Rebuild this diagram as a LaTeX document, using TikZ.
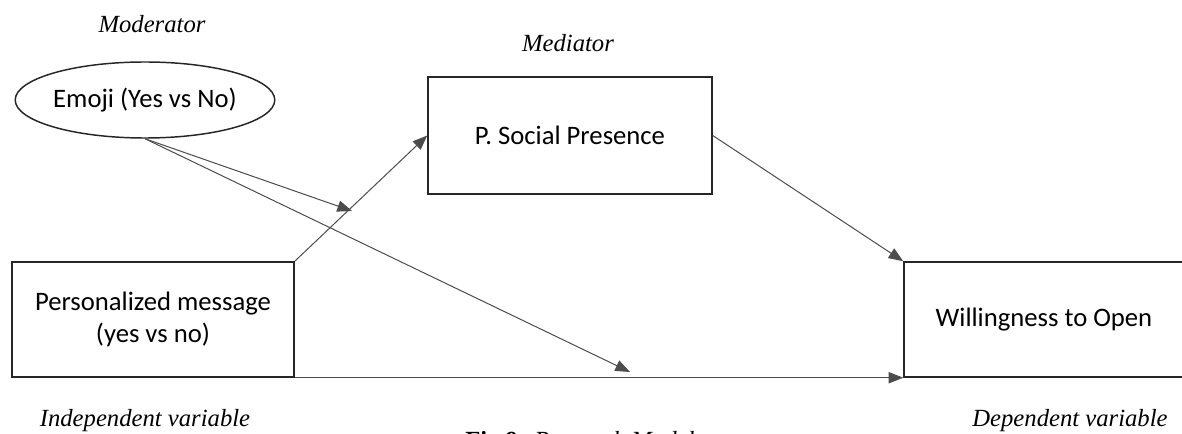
\documentclass[tikz,border=0pt]{standalone}
\usepackage{fontspec}
\setmainfont{Liberation Serif}
\newfontfamily\boxfont{Carlito}
\usetikzlibrary{arrows.meta,shapes.geometric}

\begin{document}
\begin{tikzpicture}[x=0.75pt,y=-0.75pt,
  box/.style={draw=black!85,line width=1.1pt,rectangle,inner sep=0pt,
    font=\boxfont\fontsize{20}{24}\selectfont,align=center},
  oval/.style={draw=black!85,line width=1.1pt,ellipse,inner sep=0pt,
    font=\boxfont\fontsize{20}{24}\selectfont},
  link/.style={draw=black!70,line width=0.75pt,-{Triangle[length=11pt,width=8.5pt]}},
  tag/.style={font=\fontsize{18.5}{22}\selectfont\itshape,anchor=base,inner sep=0pt}]

\useasboundingbox (0,0) rectangle (1182,434);

% variables
\node[oval,minimum width=183pt,minimum height=57pt] (emo) at (145,100) {Emoji (Yes vs No)};
\node[box,minimum width=213pt,minimum height=87.75pt] (med) at (570,135.5) {P. Social Presence};
\node[box,minimum width=211.5pt,minimum height=86.25pt] (pm) at (153,319.5) {Personalized message\\(yes vs no)};
\node[box,minimum width=210pt,minimum height=86.25pt] (wil) at (1044,319.5) {Willingness to Open};

% role labels
\node[tag] (lmod) at (152,33) {Moderator};
\node[tag] (lmed) at (568,52) {Mediator};
\node[tag] (lind) at (145,427) {Independent variable};
\node[tag] (ldep) at (1070,427) {Dependent variable};
\node[anchor=base west,inner sep=0pt,font=\fontsize{18.5}{22}\selectfont] (cap) at (465,449)
  {\textbf{Fig.9:} \textit{Research Model}};

% moderation targets on the paths
\coordinate (ma) at (352,211);
\coordinate (mb) at (630,372);

% paths
\draw[link] (emo.south) -- (ma);
\draw[link] (emo.south) -- (mb);
\draw[link] (pm.north east) -- (med.west);
\draw[link] (med.east) -- (wil.north west);
\draw[link] (pm.south east) -- (wil.south west);
\end{tikzpicture}
\end{document}
